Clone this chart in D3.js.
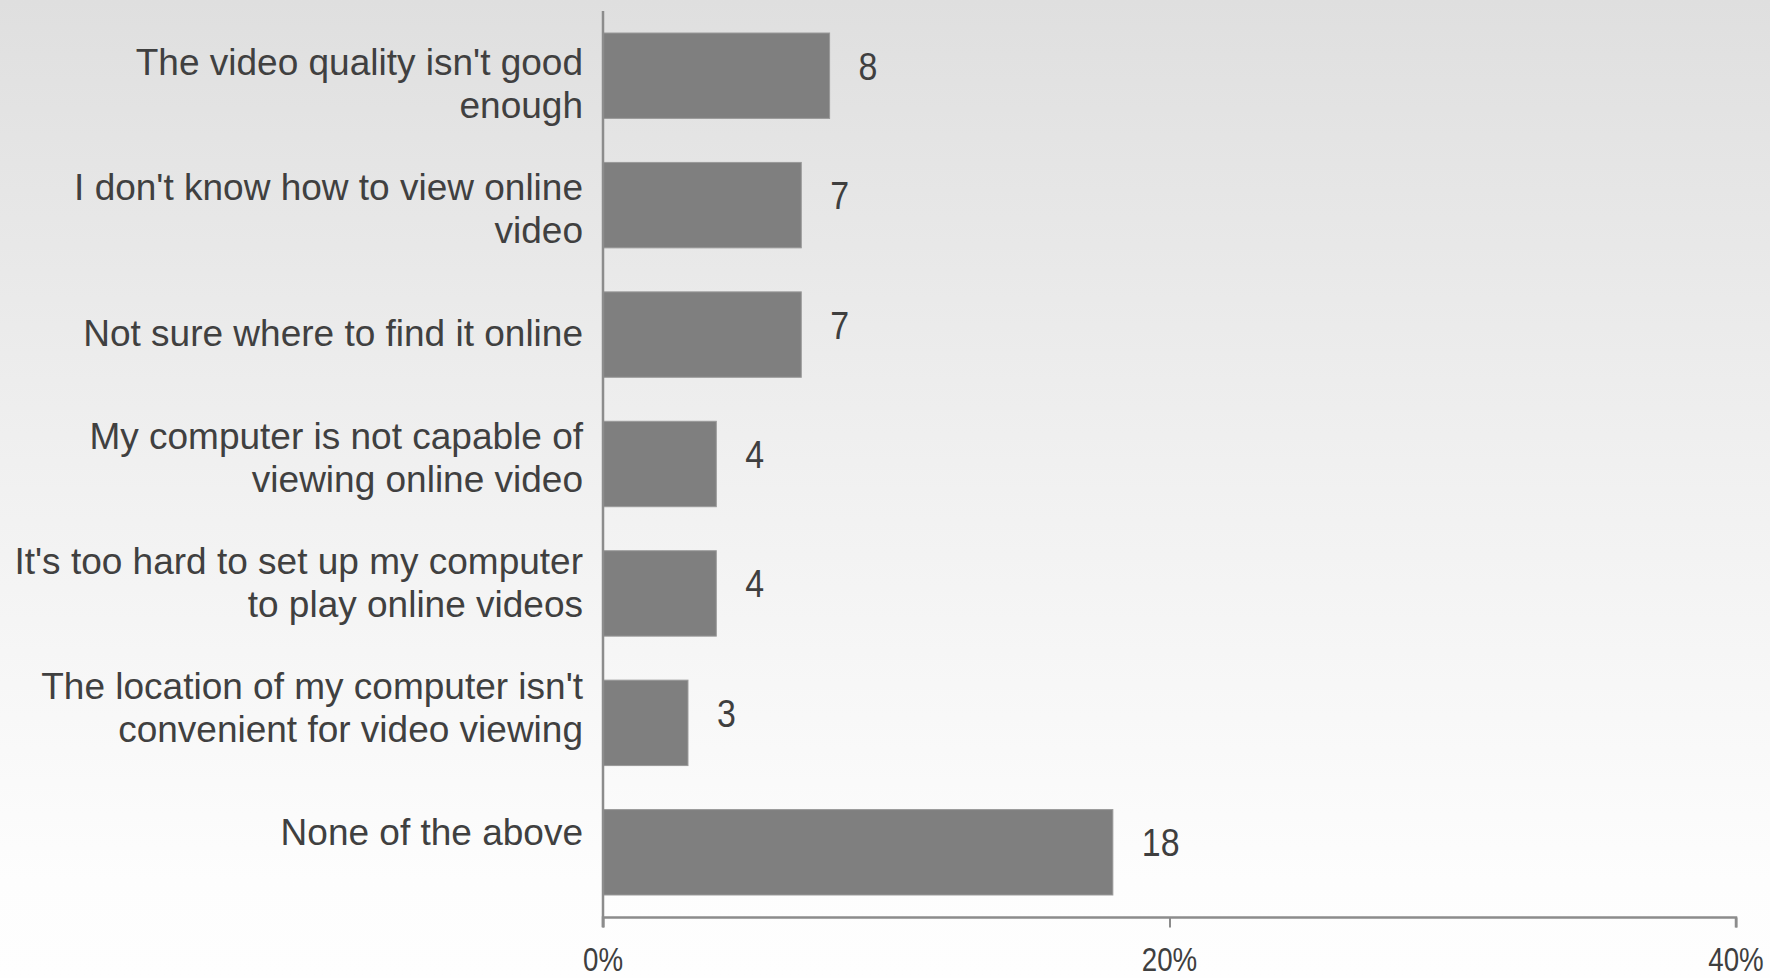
<!DOCTYPE html>
<html>
<head>
<meta charset="utf-8">
<script src="https://cdn.jsdelivr.net/npm/d3@7"></script>
<style>
  html, body { margin: 0; padding: 0; }
  body { width: 1770px; height: 978px; overflow: hidden; }
  svg { display: block; font-family: "Liberation Sans", Arial, sans-serif; }
</style>
</head>
<body>
<svg id="chart" width="1770" height="978"></svg>
<script>
// Reasons given for not watching online video (% of respondents)
const categories = [
  ["The video quality isn't good", "enough"],
  ["I don't know how to view online", "video"],
  ["Not sure where to find it online"],
  ["My computer is not capable of", "viewing online video"],
  ["It's too hard to set up my computer", "to play online videos"],
  ["The location of my computer isn't", "convenient for video viewing"],
  ["None of the above"]
];
const values = [8, 7, 7, 4, 4, 3, 18];
const xTicks = [0, 20, 40];
const xTickLabels = ["0%", "20%", "40%"];

const W = 1770, H = 978;
const margin = { left: 603, right: 34, top: 11, bottom: 61 };

const svg = d3.select("#chart");

// soft grey-to-white vertical background
const defs = svg.append("defs");
const grad = defs.append("linearGradient")
  .attr("id", "bg").attr("x1", 0).attr("y1", 0).attr("x2", 0).attr("y2", 1);
grad.append("stop").attr("offset", "0%").attr("stop-color", "#dfdfdf");
grad.append("stop").attr("offset", "50%").attr("stop-color", "#f1f1f1");
grad.append("stop").attr("offset", "90%").attr("stop-color", "#fdfdfd");
grad.append("stop").attr("offset", "100%").attr("stop-color", "#fefefe");
svg.append("rect").attr("width", W).attr("height", H).attr("fill", "url(#bg)");

const x = d3.scaleLinear().domain([0, 40]).range([margin.left, W - margin.right]);
const y = d3.scaleBand()
  .domain(d3.range(categories.length))
  .range([margin.top, H - margin.bottom])
  .paddingInner(0.34).paddingOuter(0.17);

// category labels sit on a slightly tighter grid than the bars
const yLabel = d3.scalePoint()
  .domain(d3.range(categories.length))
  .range([83.5, 832]);

// bars
svg.append("g").selectAll("rect")
  .data(values)
  .join("rect")
  .attr("x", x(0))
  .attr("y", (d, i) => y(i))
  .attr("width", d => x(d) - x(0))
  .attr("height", y.bandwidth())
  .attr("fill", "#7f7f7f")
  .attr("stroke", "#9a9a9a")
  .attr("stroke-width", 1);

// value labels
svg.append("g").selectAll("text")
  .data(values)
  .join("text")
  .attr("transform", (d, i) =>
    `translate(${x(d) + 29},${y(i) + y.bandwidth() / 2 + 4}) scale(0.87,1)`)
  .attr("fill", "#3f3f3f")
  .attr("font-size", 39)
  .text(d => d);

// category labels, right-aligned against the axis
const catG = svg.append("g");
categories.forEach((lines, i) => {
  const cy = yLabel(i);
  const lh = 43;
  const t = catG.append("text")
    .attr("text-anchor", "end")
    .attr("fill", "#404040")
    .attr("font-size", 37);
  lines.forEach((ln, j) => {
    const offset = (j - (lines.length - 1) / 2) * lh;
    t.append("tspan")
      .attr("x", 583)
      .attr("y", cy + offset + 13)
      .text(ln);
  });
});

// x axis
const xAxis = d3.axisBottom(x).tickValues(xTicks).tickSize(10).tickFormat("");
const ax = svg.append("g")
  .attr("transform", `translate(0,${H - margin.bottom + 0.5})`)
  .call(xAxis);
ax.select(".domain").attr("stroke", "#8c8c8c").attr("stroke-width", 2.5)
  .attr("d", `M${x(0)},10V0H${x(40)}V10`);
ax.selectAll(".tick line").attr("stroke", "#8c8c8c").attr("stroke-width", 2);

// tick labels
svg.append("g").selectAll("text")
  .data(xTicks)
  .join("text")
  .attr("transform", d => `translate(${x(d)},${H - 7}) scale(0.84,1)`)
  .attr("text-anchor", "middle")
  .attr("fill", "#3f3f3f")
  .attr("font-size", 33)
  .text((d, i) => xTickLabels[i]);

// y axis line
svg.append("line")
  .attr("x1", x(0)).attr("x2", x(0))
  .attr("y1", margin.top).attr("y2", H - margin.bottom + 10)
  .attr("stroke", "#8c8c8c").attr("stroke-width", 2.5);
</script>
</body>
</html>
